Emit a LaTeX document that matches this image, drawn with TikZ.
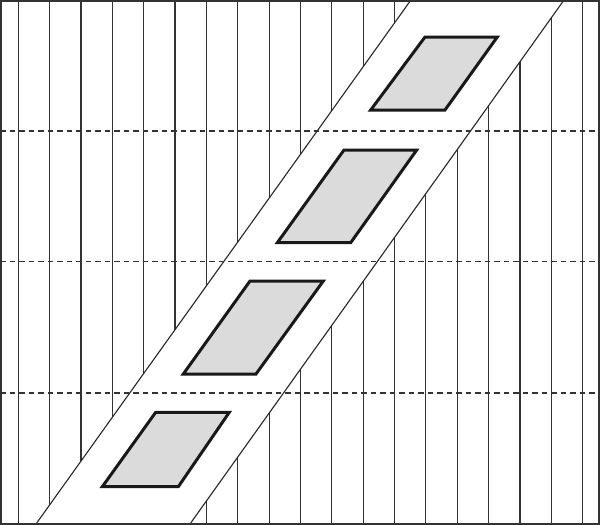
\documentclass[tikz,border=0pt]{standalone}
\begin{document}
\begin{tikzpicture}[x=1pt,y=-1pt,
  vline/.style={line width=1.2pt, draw=black!80},
  bandedge/.style={line width=1.1pt, draw=black!85},
  dline/.style={line width=1.1pt, draw=black!80, dash pattern=on 5.5pt off 4pt},
  window/.style={line width=3pt, draw=black!90, fill=black!14, line join=miter},
  frame/.style={line width=1.6pt, draw=black!80}]
\useasboundingbox (0,0) rectangle (600,525);
% vertical strips
\foreach \i in {0,...,18} \draw[vline] ({18.3+31.35*\i},0) -- ({18.3+31.35*\i},525);
% diagonal band
\fill[white] (36.7,523) -- (410.2,1) -- (563.3,1) -- (190.7,523) -- cycle;
\coordinate (bl1) at (36.7,523);
\coordinate (bl2) at (410.2,1);
\coordinate (br1) at (190.7,523);
\coordinate (br2) at (563.3,1);
\draw[bandedge] (bl1) -- (bl2);
\draw[bandedge] (br1) -- (br2);
% dashed horizontal lines
\foreach \y in {131,261.5,393} \draw[dline] (0,\y) -- (600,\y);
% windows
\draw[window] (425,37) -- (497.3,37) -- (445,110) -- (370.7,110) -- cycle;
\draw[window] (344,150) -- (416.7,150) -- (350.7,242.7) -- (277.3,242.7) -- cycle;
\draw[window] (250,281) -- (323.3,281) -- (256,374) -- (183.3,374) -- cycle;
\draw[window] (155.7,412.3) -- (229.3,412.3) -- (178.3,486.7) -- (102.3,486.7) -- cycle;
% frame
\draw[frame] (0.8,0.8) rectangle (599.2,524.2);
\end{tikzpicture}
\end{document}
